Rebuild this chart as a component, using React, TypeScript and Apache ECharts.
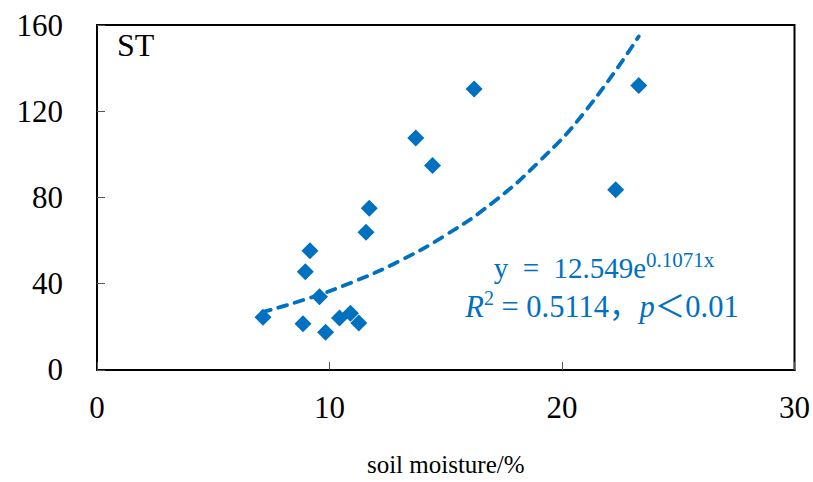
import React, { useEffect, useRef } from "react";
import * as echarts from "echarts";

// Observed points (soil moisture %, value)
const moisture = [7.14, 8.86, 8.96, 9.16, 9.57, 9.83, 10.43, 10.9, 11.26, 11.57, 11.71, 13.71, 14.43, 16.22, 22.31, 23.3];
const values = [24.5, 21.4, 45.6, 55.3, 34.0, 17.5, 24.1, 26.3, 21.8, 63.9, 75.0, 107.6, 94.8, 130.3, 83.6, 132.0];

// Trend line points
const trendX = [7.1, 9, 11, 13, 15, 17, 19, 21, 23.3];
const trendY = [26.8, 32.9, 40.8, 50.5, 62.6, 77.5, 96.5, 120.0, 154.7];

const xTicks = { min: 0, max: 30, interval: 10 };
const yTicks = { min: 0, max: 160, interval: 40 };

const BLUE = "#0070C0";
const SERIF = "'Liberation Serif', 'Times New Roman', 'Noto Sans CJK SC', serif";

export default function App() {
  const ref = useRef<HTMLDivElement>(null);
  useEffect(() => {
    if (!ref.current) return;
    const chart = echarts.init(ref.current, undefined, { renderer: "svg" });
    chart.setOption({
      animation: false,
      grid: {
        left: 97,
        right: 17,
        top: 25,
        bottom: 108,
        show: true,
        borderColor: "#000",
        borderWidth: 2,
      },
      xAxis: {
        type: "value",
        min: xTicks.min,
        max: xTicks.max,
        interval: xTicks.interval,
        name: "soil moisture/%",
        nameLocation: "middle",
        nameGap: 82,
        nameTextStyle: { fontFamily: SERIF, fontSize: 25, color: "#000" },
        axisLine: { show: true, lineStyle: { color: "#000", width: 2 } },
        axisTick: { show: true, inside: true, length: 8, lineStyle: { color: "#555", width: 1 } },
        axisLabel: { fontFamily: SERIF, fontSize: 31, color: "#000", margin: 22 },
        splitLine: { show: false },
      },
      yAxis: {
        type: "value",
        min: yTicks.min,
        max: yTicks.max,
        interval: yTicks.interval,
        axisLine: { show: true, lineStyle: { color: "#000", width: 2 } },
        axisTick: { show: true, inside: true, length: 8, lineStyle: { color: "#555", width: 1 } },
        axisLabel: { fontFamily: SERIF, fontSize: 31, color: "#000", margin: 34 },
        splitLine: { show: false },
      },
      series: [
        {
          type: "line",
          data: trendX.map((x, i) => [x, trendY[i]]),
          smooth: true,
          symbol: "none",
          lineStyle: { color: BLUE, width: 3.8, type: [9, 8], cap: "round" },
          z: 3,
        },
        {
          type: "scatter",
          data: moisture.map((x, i) => [x, values[i]]),
          symbol: "diamond",
          symbolSize: 17,
          itemStyle: { color: BLUE, opacity: 1 },
          z: 4,
        },
      ],
      graphic: [
        {
          type: "text",
          x: 117,
          y: 29,
          style: { text: "ST", fontFamily: SERIF, fontSize: 32, fill: "#000", verticalAlign: "top" },
        },
        {
          type: "text",
          x: 604,
          y: 249,
          style: {
            text: "{m|y  =  12.549e}{s|0.1071x}",
            align: "center",
            verticalAlign: "top",
            fill: BLUE,
            rich: {
              m: { fontFamily: SERIF, fontSize: 29, color: BLUE, lineHeight: 34, verticalAlign: "bottom" },
              s: { fontFamily: SERIF, fontSize: 21, color: BLUE, verticalAlign: "top" },
            },
          },
        },
        {
          type: "text",
          x: 602,
          y: 288,
          style: {
            text: "{i|R}{s|2}{m| = 0.5114，}{i|p}{m|＜0.01}",
            align: "center",
            verticalAlign: "top",
            fill: BLUE,
            rich: {
              m: { fontFamily: SERIF, fontSize: 30.5, color: BLUE, lineHeight: 34, verticalAlign: "bottom" },
              i: { fontFamily: SERIF, fontSize: 30.5, fontStyle: "italic", color: BLUE, lineHeight: 34, verticalAlign: "bottom" },
              s: { fontFamily: SERIF, fontSize: 20, color: BLUE, verticalAlign: "top" },
            },
          },
        },
      ],
    });
    return () => chart.dispose();
  }, []);
  return (
    <div
      ref={ref}
      style={{ position: "absolute", left: 0, top: 0, width: 813, height: 482 }}
    />
  );
}
